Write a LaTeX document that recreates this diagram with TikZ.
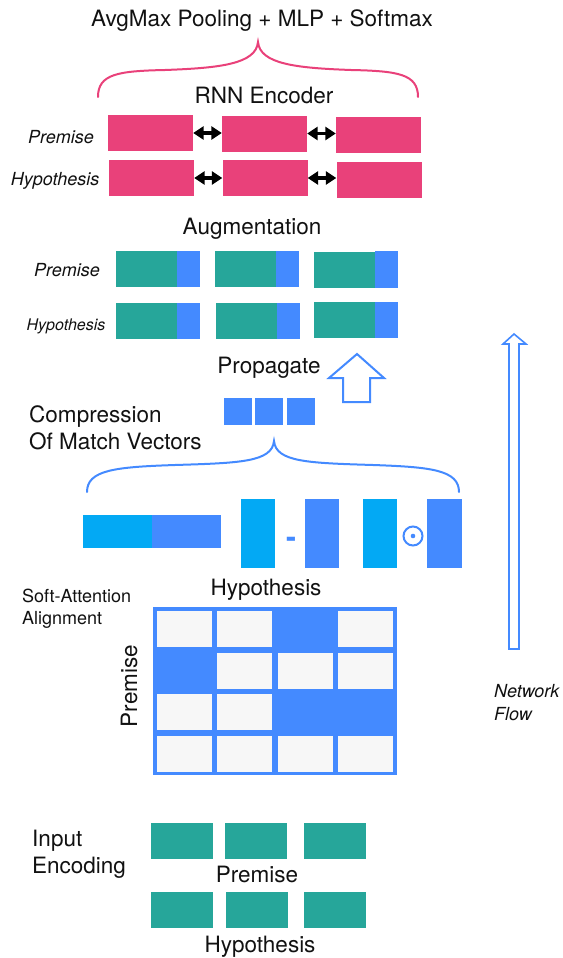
\documentclass[tikz,border=0pt]{standalone}
\usepackage{fontspec}
\setmainfont{TeX Gyre Heros}
\usetikzlibrary{arrows.meta}
\definecolor{cpink}{HTML}{E9417A}
\definecolor{cteal}{HTML}{26A69A}
\definecolor{cblue}{HTML}{448AFF}
\definecolor{clblue}{HTML}{03A9F4}
\definecolor{ccell}{HTML}{F7F7F7}
\definecolor{ctext}{HTML}{111111}
\begin{document}
\begin{tikzpicture}[x=1pt,y=-1pt,
  big/.style={font=\fontsize{22.5}{27}\selectfont, inner sep=0pt, text=ctext},
  small/.style={font=\fontsize{18}{22}\selectfont, inner sep=0pt, text=ctext},
  ital/.style={font=\fontsize{18}{22}\selectfont\itshape, inner sep=0pt, text=ctext},
  blk/.style n args={3}{rectangle, inner sep=0pt, draw=none, fill=#1, minimum width=#2, minimum height=#3},
  pbox/.style={blk={cpink}{85pt}{36pt}},
  abox/.style={blk={cteal}{84pt}{36pt}},
  ebox/.style={blk={cteal}{62pt}{36pt}},
  cbox/.style={blk={cblue}{28pt}{27pt}},
  cell/.style={blk={ccell}{55pt}{36pt}},
  dbl/.style={line width=3.5pt, {Triangle[length=10.5pt 0 0,width=13pt 0 0]}-{Triangle[length=10.5pt 0 0,width=13pt 0 0]}},
  hollow/.style={draw=cblue, fill=white, line width=2pt, line join=miter},
  brace/.style={line width=2pt, line cap=round}
]
\useasboundingbox (0,0) rectangle (562,958);

% ---------- Top: pooling + RNN encoder ----------
\node[big, anchor=base] (title) at (262,27) {AvgMax Pooling + MLP + Softmax};
\draw[brace, draw=cpink] (98,97) .. controls (98,74) and (118,71) .. (165,70)
  .. controls (220,68) and (256,64) .. (258,42)
  .. controls (260,64) and (296,68) .. (351,70)
  .. controls (398,71) and (418,74) .. (418,97);
\node[big, anchor=base] (rnn) at (264,103) {RNN Encoder};

\node[ital, anchor=base] (rprem) at (61,143) {Premise};
\node[ital, anchor=base] (rhyp) at (55,185) {Hypothesis};

\node[pbox] (r11) at (150.5,133) {};
\node[pbox] (r12) at (264.5,133.5) {};
\node[pbox] (r13) at (378.5,135) {};
\node[pbox] (r21) at (151.5,178) {};
\node[pbox] (r22) at (265,178) {};
\node[pbox] (r23) at (379,179.5) {};
\draw[dbl] (r11.east) -- (r11.east -| r12.west);
\draw[dbl] (r12.east) -- (r12.east -| r13.west);
\draw[dbl] (r21.east) -- (r21.east -| r22.west);
\draw[dbl] (r22.east) -- (r22.east -| r23.west);

% ---------- Augmentation ----------
\node[big, anchor=base] (aug) at (252,234) {Augmentation};
\node[ital, anchor=base] (aprem) at (67,276) {Premise};
\node[ital, font=\fontsize{16}{20}\selectfont\itshape, anchor=base] (ahyp) at (66,330) {Hypothesis};

\node[abox] (a11) at (158,269) {};
\node[abox] (a12) at (257,269) {};
\node[abox] (a13) at (356,269.5) {};
\node[abox] (a21) at (158,321) {};
\node[abox] (a22) at (258,321) {};
\node[abox] (a23) at (356,320) {};
\foreach \b in {a11,a12,a13,a21,a22,a23}
  \fill[cblue] ([xshift=-23pt]\b.north east) rectangle (\b.south east);

% ---------- Propagate ----------
\node[big, anchor=base] (prop) at (269,373) {Propagate};
\draw[hollow] (357,354) -- (384,378) -- (370,378) -- (370,402) -- (343,402) -- (343,378) -- (329,378) -- cycle;

% ---------- Compression ----------
\node[big, anchor=base west] (comp1) at (29,422) {Compression};
\node[big, anchor=base west] (comp2) at (29,449) {Of Match Vectors};
\node[cbox] (c1) at (238,411.5) {};
\node[cbox] (c2) at (269,411.5) {};
\node[cbox] (c3) at (301,411.5) {};

\draw[brace, draw=cblue] (87,492) .. controls (87,470) and (115,467) .. (175,465)
  .. controls (240,463) and (272,462) .. (274,441)
  .. controls (276,462) and (308,463) .. (373,465)
  .. controls (431,467) and (459,470) .. (459,492);

% ---------- Match vectors ----------
\node[blk={clblue}{69pt}{33pt}] (h1) at (117.5,531.5) {};
\node[blk={cblue}{69pt}{33pt}] (h2) at (186.5,531.5) {};
\node[blk={clblue}{34pt}{69pt}] (v1) at (258,533.5) {};
\node[font=\fontsize{30}{34}\selectfont\bfseries, text=cblue, inner sep=0pt, anchor=base] (minus) at (291,547.5) {-};
\node[blk={cblue}{34pt}{69pt}] (v2) at (322,533.5) {};
\node[blk={clblue}{34pt}{69pt}] (v3) at (380,533.5) {};
\node[circle, draw=cblue, line width=2pt, minimum size=19pt, inner sep=0pt] (odot) at (413,536) {};
\fill[cblue] (odot.center) circle (2.3pt);
\node[blk={cblue}{35pt}{69pt}] (v4) at (444.5,533.5) {};

% ---------- Soft attention ----------
\node[big, anchor=base] (mhyp) at (266,595) {Hypothesis};
\node[small, anchor=base west] (sa1) at (22,602) {Soft-Attention};
\node[small, anchor=base west] (sa2) at (22,624) {Alignment};
\node[big, rotate=90, anchor=base] (mprem) at (137,686) {Premise};

\node[blk={cblue}{244pt}{168pt}] (mat) at (275,691) {};
\foreach \r/\c in {1/1,1/2,1/4,2/2,2/3,2/4,3/1,3/2,4/1,4/2,4/3,4/4}
  \node[cell] (m\r\c) at ({184.5+60.3*(\c-1)},{629+41.7*(\r-1)}) {};

% ---------- Input encoding ----------
\node[big, anchor=base west] (in1) at (32,846) {Input};
\node[big, anchor=base west] (in2) at (32,873) {Encoding};
\node[ebox] (e11) at (181.5,841) {};
\node[ebox] (e12) at (256,841) {};
\node[ebox] (e13) at (335,841) {};
\node[ebox] (e21) at (182,909.5) {};
\node[ebox] (e22) at (256.5,909.5) {};
\node[ebox] (e23) at (335,909.5) {};
\node[big, anchor=base] (eprem) at (257,882) {Premise};
\node[big, anchor=base] (ehyp) at (260,952) {Hypothesis};

% ---------- Network flow ----------
\draw[hollow, line width=1.6pt] (514,334) -- (526,344) -- (519,344) -- (519,649) -- (509,649) -- (509,344) -- (503,344) -- cycle;
\node[ital, anchor=base west] (nf1) at (494,697) {Network};
\node[ital, anchor=base west] (nf2) at (494,720) {Flow};
\end{tikzpicture}
\end{document}
